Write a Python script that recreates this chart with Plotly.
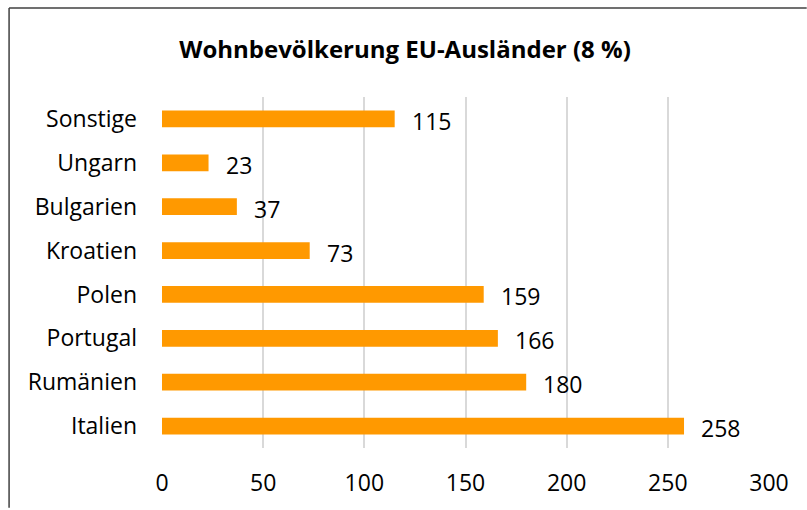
import plotly.graph_objects as go

countries = ["Italien", "Rumänien", "Portugal", "Polen", "Kroatien", "Bulgarien", "Ungarn", "Sonstige"]
values = [258, 180, 166, 159, 73, 37, 23, 115]
x_ticks = [0, 50, 100, 150, 200, 250, 300]
title_text = "Wohnbevölkerung EU-Ausländer (8 %)"

FONT = "Open Sans, sans-serif"
BAR_COLOR = "#FF9900"
FS = 23

fig = go.Figure()
fig.add_trace(go.Bar(
    x=values, y=countries, orientation="h",
    marker=dict(color=BAR_COLOR, line=dict(width=0)),
    width=0.38,
    hoverinfo="skip",
))

for c, v in zip(countries, values):
    fig.add_annotation(x=v, y=c, text=str(v), showarrow=False,
                       xanchor="left", yanchor="middle", xshift=15, yshift=-2,
                       font=dict(family=FONT, size=FS, color="#000000"))

fig.update_layout(
    width=807, height=510,
    margin=dict(l=162, r=38, t=97, b=60),
    paper_bgcolor="white", plot_bgcolor="white",
    showlegend=False,
    title=dict(text="<b>" + title_text + "</b>", x=405/807, xref="container", xanchor="center",
               y=1 - 50/510, yref="container", yanchor="middle",
               font=dict(family=FONT, size=24, color="#000000")),
    xaxis=dict(range=[0, 300], tickvals=x_ticks, showgrid=True, gridcolor="#D9D9D9", gridwidth=1.5,
               zeroline=False, showline=False, ticks="", ticklabelstandoff=19,
               tickfont=dict(family=FONT, size=FS, color="#000000")),
    yaxis=dict(showgrid=False, zeroline=False, showline=False, ticks="", ticklabelstandoff=24,
               tickfont=dict(family=FONT, size=FS, color="#000000")),
    bargap=0.62,
)

# outer chart border (only the top and left edges are visible in the reference)
px0, px1, py0, py1 = 162.0, 769.3, 97.0, 450.0
def xp(px):
    return (px - px0) / (px1 - px0)
def yp(py):
    return (py1 - py) / (py1 - py0)
border = dict(color="#404040", width=1.5)
fig.add_shape(type="line", xref="paper", yref="paper",
              x0=xp(9), x1=xp(807), y0=yp(7.5), y1=yp(7.5), line=border, layer="below")
fig.add_shape(type="line", xref="paper", yref="paper",
              x0=xp(9), x1=xp(9), y0=yp(7.5), y1=yp(510), line=border, layer="below")

fig.write_html("out.html")
